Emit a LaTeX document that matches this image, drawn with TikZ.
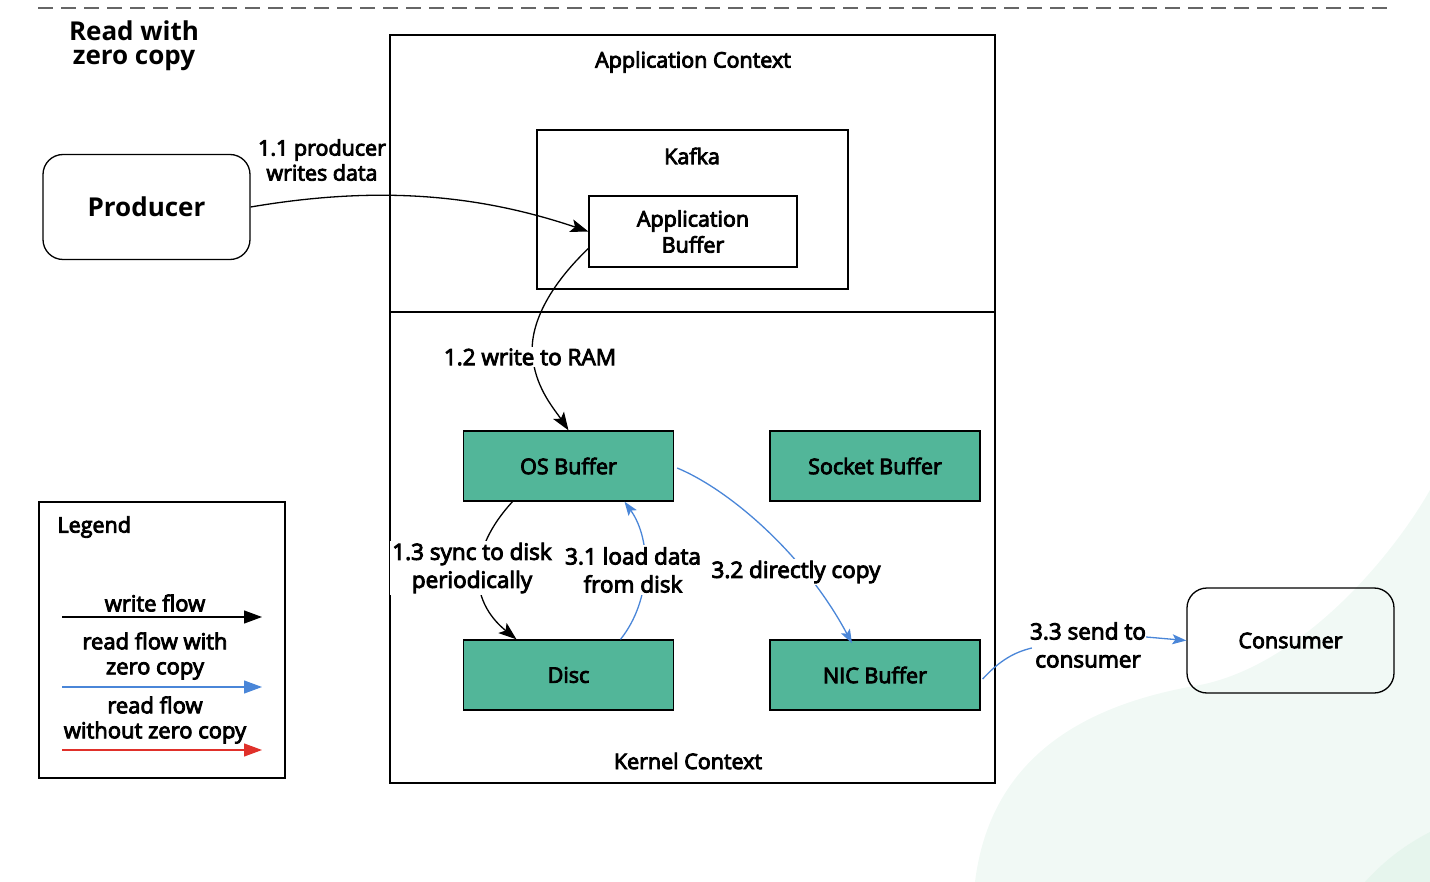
\documentclass[tikz,border=0pt]{standalone}
\usepackage{fontspec}
\setmainfont{Open Sans}
\newfontfamily\semib{Open Sans}[FakeBold=4]
\usetikzlibrary{arrows.meta}
\definecolor{bufgreen}{RGB}{82,182,153}
\definecolor{zcblue}{RGB}{74,134,216}
\definecolor{nzred}{RGB}{224,48,42}
\definecolor{blobA}{RGB}{241,249,245}
\definecolor{blobB}{RGB}{230,245,237}
\tikzset{
    ctxbox/.style={draw,line width=1.3pt,inner sep=0pt,minimum width=#1},
    bufbox/.style={draw,line width=1.3pt,fill=bufgreen,inner sep=0pt,minimum width=210pt,minimum height=70pt},
    endbox/.style={draw,line width=1.3pt,rounded corners=20pt,inner sep=0pt,minimum width=207pt,minimum height=105pt},
    lbl/.style={fill=white,align=center,inner sep=2pt,font=\semib\fontsize{22.5}{28}\selectfont},
    wflow/.style={-{Stealth[length=18pt,width=13pt,inset=4pt]},line width=1.3pt},
    zcflow/.style={-{Stealth[length=14pt,width=10pt,inset=3pt]},line width=1.3pt,zcblue},
    legarrow/.style={-{Triangle[length=18pt,width=13pt]},line width=1.2pt}
}

\begin{document}
\begin{tikzpicture}[x=1pt,y=-1pt,every node/.style={font=\semib\fontsize{21.5}{25}\selectfont}]
\useasboundingbox (0,0) rectangle (1430,882);
% background
\fill[blobA] (975,882) .. controls (990,760) and (1080,705) .. (1200,685) .. controls (1300,665) and (1390,560) .. (1430,490) -- (1430,882) -- cycle;
\fill[blobB] (1365,882) .. controls (1385,860) and (1405,845) .. (1430,832) -- (1430,882) -- cycle;
\draw[black!60,line width=2pt,dash pattern=on 15pt off 8pt] (38,8) -- (1390,8);
\node[align=center,font=\bfseries\fontsize{26}{24}\selectfont] (title) at (134,46) {Read with\\zero copy};

% contexts
\node[ctxbox=605pt,minimum height=277pt] (appctx) at (692.5,173.5) {};
\node[ctxbox=605pt,minimum height=471pt] (kerctx) at (692.5,547.5) {};
\node (appctxlbl) at (693,62) {Application Context};
\node (kerctxlbl) at (688,761) {Kernel Context};
\node[ctxbox=311pt,minimum height=159pt] (kafka) at (692.5,209.5) {};
\node (kafkalbl) at (692,156) {Kafka};
\node[ctxbox=208pt,minimum height=71pt,align=center,font=\semib\fontsize{21.5}{26}\selectfont] (appbuf) at (693,231.5) {Application\\Buffer};

% buffers
\node[bufbox] (osbuf) at (568.5,466) {OS Buffer};
\node[bufbox] (sockbuf) at (875,466) {Socket Buffer};
\node[bufbox] (disc) at (568.5,675) {Disc};
\node[bufbox] (nicbuf) at (875,675) {NIC Buffer};

% producer / consumer
\node[endbox,font=\bfseries\fontsize{26}{30}\selectfont] (producer) at (146.5,207) {Producer};
\node[endbox] (consumer) at (1290.5,640.5) {Consumer};

% write flow
\draw[wflow] (producer.east) .. controls (380,185) and (480,195) .. (appbuf.west);
\node[lbl,fill=none,font=\semib\fontsize{21.5}{25}\selectfont] (l11) at (322,160) {1.1 producer\\writes data};
\draw[wflow] ([yshift=-17pt]appbuf.west) .. controls (545,290) and (528,330) .. (533,360) .. controls (537,390) and (555,410) .. (osbuf.north);
\node[lbl] (l12) at (530,357) {1.2 write to RAM};
\draw[wflow] ([xshift=-56pt]osbuf.south) .. controls (468,550) and (468,600) .. ([xshift=-52pt]disc.north);
\node[lbl] (l13) at (472,568) {1.3 sync to disk\\periodically};

% read flow
\draw[zcflow] ([xshift=52pt]disc.north) .. controls (652,600) and (652,540) .. ([xshift=56pt]osbuf.south);
\node[lbl] (l31) at (633,570) {3.1 load data\\from disk};
\draw[zcflow] ([xshift=3pt,yshift=-2pt]osbuf.east) .. controls (730,490) and (805,555) .. ([xshift=-23pt,yshift=-4pt]nicbuf.north);
\node[lbl] (l32) at (796,572) {3.2 directly copy};
\node[lbl,fill=none] (l33) at (1088,645) {3.3 send to\\consumer};
\draw[zcblue,line width=1.3pt] ([xshift=2pt,yshift=-4pt]nicbuf.east) .. controls (1000,660) and (1015,652) .. ([xshift=4pt,yshift=-3pt]l33.west);
\draw[zcflow] ([xshift=-2pt,yshift=8pt]l33.east) -- (consumer.west);

% legend
\node[draw,line width=2.5pt,inner sep=0pt,minimum width=246pt,minimum height=276pt] (legend) at (162,640) {};
\node[anchor=west] (leglbl) at (54,527) {Legend};
\node[font=\semib\fontsize{22}{25}\selectfont] (wlbl) at (155,603) {write flow};
\node[align=center,font=\semib\fontsize{22}{25}\selectfont] (zlbl) at (155,656) {read flow with\\zero copy};
\node[align=center,font=\semib\fontsize{22}{25}\selectfont] (nlbl) at (155,720) {read flow\\without zero copy};
\coordinate (w1) at (62,617); \coordinate (w2) at (262,617);
\coordinate (z1) at (62,687); \coordinate (z2) at (262,687);
\coordinate (n1) at (62,750); \coordinate (n2) at (262,750);
\draw[legarrow] (w1) -- (w2);
\draw[legarrow,zcblue] (z1) -- (z2);
\draw[legarrow,nzred] (n1) -- (n2);
\end{tikzpicture}
\end{document}
